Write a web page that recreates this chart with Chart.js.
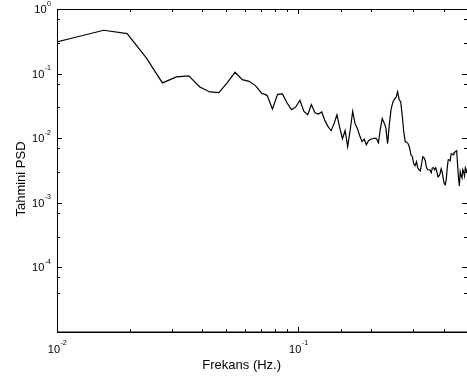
<!DOCTYPE html>
<html><head><meta charset="utf-8">
<script src="https://cdn.jsdelivr.net/npm/chart.js@4/dist/chart.umd.min.js"></script>
<style>html,body{margin:0;padding:0;background:#fff;overflow:hidden}#wrap{width:467px;height:385px;position:relative}</style>
</head><body><div id="wrap"><canvas id="c" width="467" height="385"></canvas></div>
<script>
// Frequency grid (Hz.)
const frequencies = [
0.00781,0.01172,0.01563,0.01953,0.02344,0.02734,0.03125,0.03516,0.03906,0.04297,
0.04688,0.05078,0.05469,0.05859,0.0625,0.06641,0.07031,0.07422,0.07813,0.08203,
0.08594,0.08984,0.09375,0.09766,0.10156,0.10547,0.10938,0.11328,0.11719,0.12109,
0.125,0.12891,0.13281,0.13672,0.14063,0.14453,0.14844,0.15234,0.15625,0.16016,
0.16406,0.16797,0.17188,0.17578,0.17969,0.18359,0.1875,0.19141,0.19531,0.19922,
0.20313,0.20703,0.21094,0.21484,0.21875,0.22266,0.22656,0.23047,0.23438,0.23828,
0.24219,0.24609,0.25,0.25391,0.25781,0.26172,0.26563,0.26953,0.27344,0.27734,
0.28125,0.28516,0.28906,0.29297,0.29688,0.30078,0.30469,0.30859,0.3125,0.31641,
0.32031,0.32422,0.32813,0.33203,0.33594,0.33984,0.34375,0.34766,0.35156,0.35547,
0.35938,0.36328,0.36719,0.37109,0.375,0.37891,0.38281,0.38672,0.39063,0.39453,
0.39844,0.40234,0.40625,0.41016,0.41406,0.41797,0.42188,0.42578,0.42969,0.43359,
0.4375,0.44141,0.44531,0.44922,0.45313,0.45703,0.46094,0.46484,0.46875,0.47266,
0.47656,0.48047,0.48438,0.48828,0.49219,0.49609,0.5];
// Estimated PSD
const psd = [
0.247,0.359,0.469,0.417,0.175,0.0718,0.0889,0.0921,0.0622,0.0520,
0.0507,0.0725,0.1048,0.0807,0.0760,0.0652,0.0502,0.0461,0.0284,0.0478,
0.0485,0.0351,0.0277,0.0305,0.0386,0.0260,0.0231,0.0331,0.0248,0.0236,
0.0255,0.0187,0.0151,0.0131,0.0168,0.0231,0.0146,0.00982,0.0131,0.00738,
0.0135,0.0260,0.0168,0.0140,0.01093,0.00883,0.00965,0.00793,0.00915,0.00965,
0.00982,0.0100,0.00982,0.00852,0.0140,0.0201,0.0174,0.0146,0.00822,0.0162,
0.0277,0.0355,0.0402,0.0425,0.0526,0.0395,0.0368,0.0223,0.0126,0.00883,
0.00867,0.00822,0.00712,0.00555,0.00517,0.00402,0.00375,0.00432,0.00349,0.00325,
0.00313,0.00402,0.00517,0.00498,0.00448,0.00349,0.00325,0.00325,0.00319,0.00292,
0.00349,0.00349,0.00325,0.00349,0.00302,0.00253,0.00262,0.00282,0.00337,0.00302,
0.00244,0.00197,0.00190,0.00227,0.00349,0.00464,0.00464,0.00448,0.00575,0.00575,
0.00555,0.00596,0.00607,0.00629,0.00640,0.00388,0.00244,0.00183,0.00302,0.00262,
0.00244,0.00325,0.00302,0.00262,0.00349,0.00325,0.00292];
// Labelled ticks
const xTickValues = [0.01, 0.1];
const xTickExponents = ['-2', '-1'];
const yTickValues = [1, 0.1, 0.01, 0.001, 0.0001];
const yTickExponents = ['0', '-1', '-2', '-3', '-4'];
const xTitle = 'Frekans (Hz.)';
const yTitle = 'Tahmini PSD';

const FONT = '"Liberation Sans", Arial, Helvetica, sans-serif';

const framePlugin = {
  id: 'frame',
  afterDraw(chart) {
    const ctx = chart.ctx;
    const {left, top, right, bottom} = chart.chartArea;
    const xs = chart.scales.x, ys = chart.scales.y;
    ctx.save();
    ctx.strokeStyle = '#000';
    ctx.fillStyle = '#000';
    // frame
    ctx.lineWidth = 1;
    ctx.beginPath();
    ctx.moveTo(left + 0.5, bottom); ctx.lineTo(left + 0.5, top + 0.5);
    ctx.lineTo(right + 0.5, top + 0.5);
    ctx.lineTo(right + 0.5, bottom);
    ctx.stroke();
    ctx.lineWidth = 1.5;
    ctx.beginPath();
    ctx.moveTo(left, bottom + 0.25); ctx.lineTo(right + 1, bottom + 0.25);
    ctx.stroke();
    // ticks
    ctx.lineWidth = 1;
    const isMajor = v => Math.abs(Math.log10(v) - Math.round(Math.log10(v))) < 1e-6;
    ctx.beginPath();
    xs.ticks.forEach(t => {
      const v = t.value;
      if (v < xs.min - 1e-12 || v > xs.max + 1e-12) return;
      const px = Math.round(xs.getPixelForValue(v)) + 0.5;
      const len = isMajor(v) ? 5 : 3;
      ctx.moveTo(px, bottom); ctx.lineTo(px, bottom - len);
      ctx.moveTo(px, top); ctx.lineTo(px, top + len);
    });
    ys.ticks.forEach(t => {
      const v = t.value;
      if (v < ys.min * 0.999 || v > ys.max * 1.001) return;
      const py = Math.round(ys.getPixelForValue(v)) + 0.5;
      const len = isMajor(v) ? 5 : 3;
      ctx.moveTo(left, py); ctx.lineTo(left + len, py);
      ctx.moveTo(right, py); ctx.lineTo(right - len, py);
    });
    ctx.stroke();
    // x tick labels
    const baseFont = '11px ' + FONT, expFont = '7px ' + FONT;
    ctx.textBaseline = 'alphabetic';
    ctx.textAlign = 'left';
    xTickValues.forEach((v, i) => {
      const px = xs.getPixelForValue(v);
      ctx.font = baseFont; const w1 = ctx.measureText('10').width;
      ctx.font = expFont; const w2 = ctx.measureText(xTickExponents[i]).width;
      const x0 = px - (w1 + w2) / 2;
      ctx.font = baseFont; ctx.fillText('10', x0, bottom + 21);
      ctx.font = expFont; ctx.fillText(xTickExponents[i], x0 + w1 + 0.5, bottom + 13);
    });
    // y tick labels
    yTickValues.forEach((v, i) => {
      const py = ys.getPixelForValue(v);
      ctx.font = expFont; const w2 = ctx.measureText(yTickExponents[i]).width;
      ctx.font = baseFont; const w1 = ctx.measureText('10').width;
      const xr = left - 6;
      const x0 = xr - w2 - w1 - 0.5;
      ctx.fillText('10', x0, py + 4);
      ctx.font = expFont; ctx.fillText(yTickExponents[i], x0 + w1 + 0.5, py - 3.5);
    });
    // titles
    ctx.font = '13px ' + FONT;
    ctx.textAlign = 'center';
    ctx.fillText(xTitle, 241.7, 369);
    ctx.translate(25, 179);
    ctx.rotate(-Math.PI / 2);
    ctx.fillText(yTitle, 0, 0);
    ctx.restore();
  }
};

new Chart(document.getElementById('c'), {
  type: 'line',
  data: {
    datasets: [{
      data: frequencies.map((f, i) => ({x: f, y: psd[i]})),
      borderColor: '#000',
      borderWidth: 1.2,
      pointRadius: 0,
      tension: 0,
      fill: false
    }]
  },
  options: {
    responsive: false,
    animation: false,
    events: [],
    layout: {padding: {left: 57, top: 9, right: 0, bottom: 53}},
    plugins: {legend: {display: false}, tooltip: {enabled: false}},
    scales: {
      x: {type: 'logarithmic', min: 0.01, max: 0.5, display: false},
      y: {type: 'logarithmic', min: 0.00001, max: 1, display: false}
    }
  },
  plugins: [framePlugin]
});
</script></body></html>
